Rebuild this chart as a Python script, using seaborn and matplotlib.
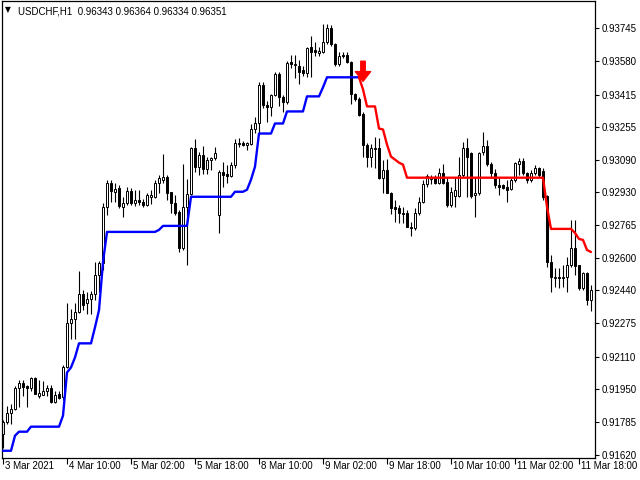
import numpy as np
import pandas as pd
import matplotlib
matplotlib.use("Agg")
import matplotlib.pyplot as plt
from matplotlib.transforms import ScaledTranslation
import seaborn as sns

title = "USDCHF,H1  0.96343 0.96364 0.96334 0.96351"

x_labels = ["3 Mar 2021", "4 Mar 10:00", "5 Mar 02:00", "5 Mar 18:00", "8 Mar 10:00",
            "9 Mar 02:00", "9 Mar 18:00", "10 Mar 10:00", "11 Mar 02:00", "11 Mar 18:00"]
x_label_bars = [0, 16, 32, 48, 64, 80, 96, 112, 128, 144]

y_ticks = [0.93745, 0.93580, 0.93415, 0.93255, 0.93090, 0.92930, 0.92765,
           0.92600, 0.92440, 0.92275, 0.92110, 0.91950, 0.91785, 0.91620]

opens = [0.91726, 0.91786, 0.91831, 0.91851, 0.91956, 0.91981, 0.91966, 0.91956, 0.92001, 0.91916,
         0.91921, 0.91941, 0.91956, 0.91886, 0.91926, 0.91911, 0.92056, 0.92276, 0.92296, 0.92331,
         0.92421, 0.92376, 0.92396, 0.92421, 0.92516, 0.92576, 0.92856, 0.92976, 0.92931, 0.92951,
         0.92856, 0.92876, 0.92936, 0.92876, 0.92891, 0.92881, 0.92866, 0.92906, 0.92906, 0.92976,
         0.92991, 0.93006, 0.92931, 0.92876, 0.92831, 0.92651, 0.92856, 0.92921, 0.93151, 0.93056,
         0.93116, 0.93046, 0.93091, 0.93101, 0.92816, 0.93031, 0.93021, 0.93011, 0.93066, 0.93176,
         0.93176, 0.93166, 0.93171, 0.93246, 0.93271, 0.93461, 0.93361, 0.93351, 0.93411, 0.93516,
         0.93401, 0.93376, 0.93576, 0.93561, 0.93556, 0.93536, 0.93521, 0.93651, 0.93636, 0.93621,
         0.93626, 0.93676, 0.93746, 0.93666, 0.93566, 0.93611, 0.93611, 0.93576, 0.93416, 0.93391,
         0.93316, 0.93166, 0.93106, 0.93146, 0.93151, 0.93001, 0.93041, 0.92926, 0.92856, 0.92851,
         0.92826, 0.92826, 0.92756, 0.92751, 0.92826, 0.92881, 0.92971, 0.92996, 0.93006, 0.92976,
         0.93026, 0.92981, 0.92866, 0.92911, 0.92911, 0.93016, 0.93151, 0.93126, 0.92916, 0.92926,
         0.93131, 0.93161, 0.93071, 0.93026, 0.92966, 0.92966, 0.92956, 0.92946, 0.92991, 0.93071,
         0.93086, 0.93026, 0.92991, 0.93026, 0.93051, 0.93036, 0.92911, 0.92581, 0.92501, 0.92506,
         0.92501, 0.92506, 0.92566, 0.92651, 0.92566, 0.92451, 0.92526, 0.92391]
highs = [0.91796, 0.91866, 0.91876, 0.91966, 0.91991, 0.91991, 0.91971, 0.92006, 0.92006, 0.91991,
         0.91986, 0.91971, 0.91971, 0.91941, 0.91941, 0.92066, 0.92376, 0.92346, 0.92376, 0.92536,
         0.92441, 0.92431, 0.92436, 0.92581, 0.92586, 0.92876, 0.92991, 0.92991, 0.92976, 0.92966,
         0.92906, 0.92956, 0.92951, 0.92941, 0.92941, 0.92896, 0.92926, 0.92941, 0.92991, 0.93016,
         0.93121, 0.93016, 0.92931, 0.92916, 0.92841, 0.93071, 0.92996, 0.93156, 0.93196, 0.93131,
         0.93161, 0.93106, 0.93106, 0.93156, 0.93041, 0.93081, 0.93066, 0.93081, 0.93196, 0.93201,
         0.93186, 0.93181, 0.93266, 0.93301, 0.93476, 0.93476, 0.93381, 0.93416, 0.93526, 0.93526,
         0.93411, 0.93581, 0.93611, 0.93611, 0.93586, 0.93556, 0.93651, 0.93706, 0.93676, 0.93651,
         0.93766, 0.93766, 0.93761, 0.93671, 0.93626, 0.93626, 0.93626, 0.93581, 0.93421, 0.93401,
         0.93326, 0.93176, 0.93171, 0.93206, 0.93201, 0.93091, 0.93096, 0.92931, 0.92891, 0.92866,
         0.92856, 0.92841, 0.92781, 0.92851, 0.92906, 0.92991, 0.93021, 0.93016, 0.93016, 0.93051,
         0.93071, 0.93006, 0.92956, 0.93006, 0.93106, 0.93181, 0.93201, 0.93131, 0.93006, 0.93131,
         0.93231, 0.93191, 0.93081, 0.93046, 0.93001, 0.92971, 0.92991, 0.93001, 0.93081, 0.93101,
         0.93101, 0.93031, 0.93041, 0.93066, 0.93056, 0.93051, 0.92916, 0.92616, 0.92551, 0.92551,
         0.92566, 0.92606, 0.92791, 0.92791, 0.92566, 0.92531, 0.92531, 0.92466]
lows = [0.91656, 0.91776, 0.91776, 0.91846, 0.91861, 0.91916, 0.91861, 0.91941, 0.91926, 0.91906,
        0.91921, 0.91916, 0.91881, 0.91881, 0.91901, 0.91896, 0.92051, 0.92196, 0.92196, 0.92326,
        0.92341, 0.92321, 0.92321, 0.92391, 0.92431, 0.92541, 0.92816, 0.92881, 0.92881, 0.92851,
        0.92806, 0.92866, 0.92866, 0.92861, 0.92866, 0.92856, 0.92861, 0.92871, 0.92901, 0.92926,
        0.92976, 0.92891, 0.92826, 0.92816, 0.92631, 0.92641, 0.92566, 0.92916, 0.93031, 0.93016,
        0.93021, 0.93021, 0.93041, 0.93091, 0.92726, 0.92956, 0.92976, 0.93006, 0.93051, 0.93156,
        0.93161, 0.93141, 0.93166, 0.93226, 0.93226, 0.93346, 0.93276, 0.93306, 0.93406, 0.93356,
        0.93326, 0.93366, 0.93546, 0.93496, 0.93466, 0.93506, 0.93501, 0.93501, 0.93606, 0.93606,
        0.93621, 0.93666, 0.93656, 0.93556, 0.93556, 0.93596, 0.93571, 0.93366, 0.93381, 0.93306,
        0.93106, 0.93056, 0.93056, 0.93051, 0.92996, 0.92926, 0.92926, 0.92821, 0.92781, 0.92776,
        0.92776, 0.92756, 0.92711, 0.92741, 0.92816, 0.92876, 0.92956, 0.92971, 0.92971, 0.92971,
        0.92971, 0.92856, 0.92856, 0.92856, 0.92906, 0.93006, 0.92906, 0.92901, 0.92806, 0.92916,
        0.93116, 0.93061, 0.93001, 0.92951, 0.92916, 0.92946, 0.92881, 0.92941, 0.92981, 0.93016,
        0.93016, 0.92976, 0.92981, 0.93016, 0.93006, 0.92891, 0.92556, 0.92431, 0.92456, 0.92451,
        0.92456, 0.92431, 0.92556, 0.92516, 0.92441, 0.92441, 0.92366, 0.92336]
closes = [0.91786, 0.91831, 0.91851, 0.91956, 0.91981, 0.91961, 0.91956, 0.92001, 0.91926, 0.91931,
          0.91941, 0.91956, 0.91886, 0.91921, 0.91906, 0.92056, 0.92276, 0.92296, 0.92331, 0.92421,
          0.92366, 0.92396, 0.92421, 0.92516, 0.92576, 0.92856, 0.92976, 0.92936, 0.92946, 0.92861,
          0.92876, 0.92936, 0.92876, 0.92891, 0.92881, 0.92866, 0.92916, 0.92916, 0.92976, 0.93001,
          0.93006, 0.92926, 0.92876, 0.92826, 0.92651, 0.92856, 0.92921, 0.93151, 0.93056, 0.93116,
          0.93046, 0.93091, 0.93101, 0.93126, 0.93031, 0.93016, 0.93011, 0.93066, 0.93176, 0.93171,
          0.93166, 0.93176, 0.93246, 0.93271, 0.93461, 0.93361, 0.93351, 0.93411, 0.93516, 0.93401,
          0.93376, 0.93571, 0.93566, 0.93566, 0.93526, 0.93521, 0.93646, 0.93626, 0.93626, 0.93631,
          0.93676, 0.93746, 0.93666, 0.93566, 0.93606, 0.93606, 0.93576, 0.93416, 0.93391, 0.93311,
          0.93166, 0.93106, 0.93151, 0.93151, 0.93001, 0.93041, 0.92926, 0.92851, 0.92846, 0.92826,
          0.92821, 0.92756, 0.92751, 0.92826, 0.92881, 0.92971, 0.93011, 0.93006, 0.92976, 0.93026,
          0.92976, 0.92866, 0.92931, 0.92941, 0.93016, 0.93151, 0.93106, 0.92911, 0.92926, 0.93126,
          0.93161, 0.93071, 0.93026, 0.92966, 0.92956, 0.92951, 0.92941, 0.92991, 0.93076, 0.93086,
          0.93026, 0.92991, 0.93026, 0.93051, 0.93016, 0.92906, 0.92581, 0.92506, 0.92506, 0.92501,
          0.92506, 0.92566, 0.92651, 0.92561, 0.92451, 0.92526, 0.92391, 0.92441]

# trailing stop while trend is up (bars 0..89) and down (bars 89..147)
trail_up = ([0.91641] * 3 + [0.91716] + [0.91736] * 3 + [0.91761] * 8 + [0.91816, 0.92031, 0.92056, 0.92106]
            + [0.92176] * 4 + [0.92256, 0.92341, 0.92581] + [0.92731] * 13 + [0.92741] + [0.92761] * 7
            + [0.92906] * 11 + [0.92931] * 3 + [0.92941, 0.92991, 0.93056] + [0.93221] * 4
            + [0.93271] * 3 + [0.93331] * 5 + [0.93406] * 4 + [0.93451] + [0.93501] * 9)
trail_down = ([0.93501, 0.93441] + [0.93356] * 3 + [0.93246, 0.93241, 0.93166, 0.93106, 0.93091, 0.93076, 0.93066]
              + [0.93001] * 35 + [0.92856] + [0.92746] * 6 + [0.92726, 0.92696, 0.92691, 0.92641, 0.92631])
trail_down_start = 89

signal_bar = 90
signal_tip = 0.93481
signal_top = 0.93581

sns.set_theme(style="white")
plt.rcParams["font.family"] = ["Liberation Sans", "DejaVu Sans"]

fig = plt.figure(figsize=(6.4, 4.8), dpi=100)
fig.patch.set_facecolor("white")
ax = fig.add_axes([2 / 640, 22 / 480, 593 / 640, 457 / 480])
ax.set_facecolor("white")

df = pd.DataFrame({"open": opens, "high": highs, "low": lows, "close": closes})
df["bar"] = np.arange(len(df))
up = df["close"] >= df["open"]

# wicks
ax.vlines(df["bar"], df["low"], df["high"], color="black", linewidth=0.8, zorder=1)
# bodies
body_lo = df[["open", "close"]].min(axis=1)
body_h = (df["close"] - df["open"]).abs()
ax.bar(df["bar"][up], body_h[up], bottom=body_lo[up], width=0.55,
       color="white", edgecolor="black", linewidth=0.7, zorder=2)
ax.bar(df["bar"][~up], body_h[~up], bottom=body_lo[~up], width=0.55,
       color="black", edgecolor="black", linewidth=0.7, zorder=2)

# trailing lines
up_df = pd.DataFrame({"bar": np.arange(len(trail_up)), "v": trail_up})
dn_df = pd.DataFrame({"bar": np.arange(len(trail_down)) + trail_down_start, "v": trail_down})
sns.lineplot(data=up_df, x="bar", y="v", color="#0000FF", linewidth=1.7, estimator=None,
             sort=False, ax=ax, zorder=3)
sns.lineplot(data=dn_df, x="bar", y="v", color="#FF0000", linewidth=1.7, estimator=None,
             sort=False, ax=ax, zorder=3)

# signal arrow
ax.annotate("", xy=(signal_bar, signal_tip), xytext=(signal_bar, signal_top),
            arrowprops=dict(facecolor="#FF0000", edgecolor="#FF0000", width=3.2,
                            headwidth=11, headlength=7, shrink=0), zorder=4)

ax.set_xlim(-0.25, 148)
ax.set_ylim(0.91605, 0.93881)
ax.set_xlabel("")
ax.set_ylabel("")

for s in ax.spines.values():
    s.set_color("black")
    s.set_linewidth(0.9)
    s.set_visible(True)

ax.set_xticks(x_label_bars)
ax.set_xticklabels(x_labels)
ax.yaxis.tick_right()
ax.set_yticks(y_ticks)
ax.set_yticklabels([f"{v:.5f}" for v in y_ticks])
ax.tick_params(axis="x", direction="out", length=4, width=0.8, labelsize=7, pad=-1.5,
               bottom=True, colors="black")
ax.tick_params(axis="y", direction="out", length=3, width=0.8, labelsize=7, pad=1.5,
               right=True, left=False, colors="black")
offset = ScaledTranslation(2 / 100, 0, fig.dpi_scale_trans)
for lab in ax.get_xticklabels():
    lab.set_ha("left")
    lab.set_transform(lab.get_transform() + offset)

fig.text(5 / 640, 1 - 12 / 480, "\u25bc", fontsize=5.5, color="black", va="baseline",
         family=["DejaVu Sans"])
fig.text(18 / 640, 1 - 14 / 480, title, fontsize=7, color="black", va="baseline")

fig.savefig("out.png", dpi=100, facecolor="white")
